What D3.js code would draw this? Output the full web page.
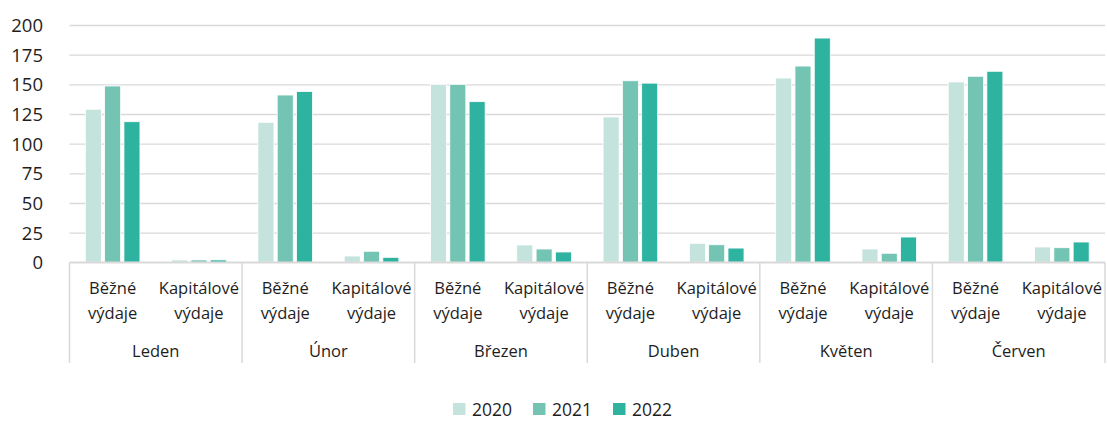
<!DOCTYPE html>
<html>
<head>
<meta charset="utf-8">
<script src="https://cdn.jsdelivr.net/npm/d3@7"></script>
<style>
  body { margin: 0; background: #fff; }
  text { font-family: "Open Sans", sans-serif; fill: #1e1e1e; }
</style>
</head>
<body>
<div id="chart"></div>
<script>
// data
var months = ["Leden", "Únor", "Březen", "Duben", "Květen", "Červen"];
var types = ["Běžné výdaje", "Kapitálové výdaje"];
var years = ["2020", "2021", "2022"];
var yTicks = [0, 25, 50, 75, 100, 125, 150, 175, 200];

// values per month: [Běžné, Kapitálové]
var values2020 = [129, 2, 118, 5.3, 150, 14.6, 122.5, 16, 155.3, 11.2, 152, 12.9];
var values2021 = [148.6, 2, 141, 9.3, 150, 11.2, 153, 14.8, 165.4, 7.6, 156.8, 12.3];
var values2022 = [118.5, 2, 144, 4.2, 135.4, 8.7, 151, 12, 189, 21.3, 161, 17.1];

var colors = ["#c5e3dd", "#74c4b4", "#2fb3a1"];

var svgWidth = 1107;
var svgHeight = 421;

var plot = { left: 69.5, right: 1105, top: 25, bottom: 262.3 };

var svg = d3.select("#chart")
  .append("svg")
  .attr("width", svgWidth)
  .attr("height", svgHeight);

// build rows from the arrays
var keys = [];
months.forEach(function(m, i) {
  types.forEach(function(t, j) {
    keys.push({ key: m + "|" + t, month: m, type: t, idx: i * 2 + j });
  });
});
var seriesValues = [values2020, values2021, values2022];

var x0 = d3.scaleBand()
  .domain(keys.map(d => d.key))
  .range([plot.left, plot.right]);

var x1 = d3.scaleBand()
  .domain(years)
  .range([0, x0.bandwidth()])
  .paddingInner(0.17)
  .paddingOuter(0.82);

var y = d3.scaleLinear()
  .domain([0, 200])
  .range([plot.bottom, plot.top]);

// gridlines
var grid = svg.append("g")
  .attr("transform", `translate(${plot.left},0)`)
  .call(d3.axisLeft(y).tickValues(yTicks).tickSize(-(plot.right - plot.left)).tickFormat(""));
grid.select(".domain").remove();
grid.selectAll("line").attr("stroke", "#d9d9d9").attr("stroke-width", 1.3);

// y labels
var yAxis = svg.append("g")
  .attr("transform", "translate(43,0)")
  .call(d3.axisLeft(y).tickValues(yTicks).tickSize(0).tickPadding(0));
yAxis.select(".domain").remove();
yAxis.selectAll("text")
  .attr("font-size", "18.5px")
  .attr("font-family", "Open Sans, sans-serif")
  .attr("fill", "#1e1e1e")
  .attr("dy", "0.36em");

// bars
years.forEach(function(yr, s) {
  svg.append("g")
    .selectAll("rect")
    .data(keys)
    .enter()
    .append("rect")
    .attr("x", d => x0(d.key) + x1(yr))
    .attr("y", d => y(seriesValues[s][d.idx]))
    .attr("width", x1.bandwidth())
    .attr("height", d => y(0) - y(seriesValues[s][d.idx]))
    .attr("fill", colors[s])
    .attr("stroke", "#fff")
    .attr("stroke-width", 0.8);
});

// bottom axis line + month dividers
var monthWidth = x0.bandwidth() * 2;
svg.append("line")
  .attr("x1", plot.left).attr("x2", plot.right)
  .attr("y1", y(0)).attr("y2", y(0))
  .attr("stroke", "#d9d9d9").attr("stroke-width", 1.5);

svg.append("g")
  .selectAll("line")
  .data(d3.range(months.length + 1))
  .enter()
  .append("line")
  .attr("x1", d => plot.left + d * monthWidth)
  .attr("x2", d => plot.left + d * monthWidth)
  .attr("y1", y(0))
  .attr("y2", 363)
  .attr("stroke", "#d9d9d9")
  .attr("stroke-width", 1.5);

// category labels
var catLabels = svg.append("g")
  .selectAll("text")
  .data(keys)
  .enter()
  .append("text")
  .attr("text-anchor", "middle")
  .attr("font-size", "16.5px");
catLabels.append("tspan")
  .attr("x", d => x0(d.key) + x0.bandwidth() / 2)
  .attr("y", 294)
  .text(d => d.type.split(" ")[0]);
catLabels.append("tspan")
  .attr("x", d => x0(d.key) + x0.bandwidth() / 2)
  .attr("y", 318.5)
  .text(d => d.type.split(" ")[1]);

svg.append("g")
  .selectAll("text")
  .data(months)
  .enter()
  .append("text")
  .attr("x", (d, i) => plot.left + (i + 0.5) * monthWidth)
  .attr("y", 356.5)
  .attr("text-anchor", "middle")
  .attr("font-size", "16.5px")
  .text(d => d);

// legend
var legend = svg.append("g")
  .selectAll("g")
  .data(years)
  .enter()
  .append("g")
  .attr("transform", (d, i) => `translate(${453 + i * 80}, 403)`);
legend.append("rect")
  .attr("width", 12.5)
  .attr("height", 12)
  .attr("fill", (d, i) => colors[i]);
legend.append("text")
  .attr("x", 19)
  .attr("y", 12.5)
  .attr("font-size", "17.5px")
  .text(d => d);
</script>
</body>
</html>
